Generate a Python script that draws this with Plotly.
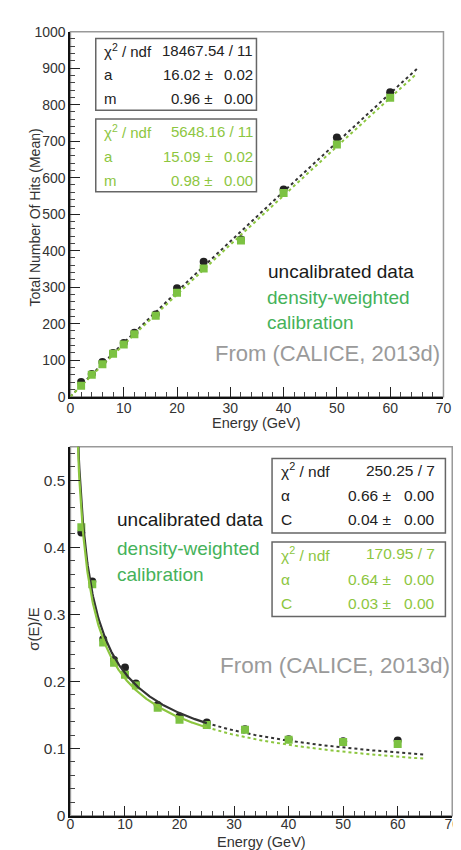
import numpy as np
import plotly.graph_objects as go

W, H = 461, 850

# ---------------- data ----------------
energy_top = [2, 4, 6, 8, 10, 12, 16, 20, 25, 32, 40, 50, 60]
hits_uncal = [40, 62, 95, 120, 147, 175, 225, 297, 370, 431, 568, 710, 834]
hits_dw = [30, 60, 89, 118, 143, 171, 222, 285, 351, 428, 558, 691, 819]

energy_res = [2, 4, 6, 8, 10, 12, 16, 20, 25, 32, 40, 50, 60]
res_uncal = [0.422, 0.349, 0.263, 0.232, 0.221, 0.197, 0.165, 0.148, 0.139, 0.129, 0.114, 0.111, 0.112]
res_dw = [0.430, 0.345, 0.258, 0.228, 0.210, 0.194, 0.161, 0.143, 0.135, 0.128, 0.113, 0.110, 0.107]

# fit parameters (power law a*E^m ; resolution alpha/sqrt(E) (+) C)
fit_top_uncal = (16.02, 0.9645)
fit_top_dw = (15.09, 0.9755)
fit_res_uncal = (0.66, 0.04)
fit_res_dw = (0.64, 0.03)
fit_top_range = (0, 65)
fit_res_solid = (1.0, 25)
fit_res_dotted = (25, 65)

stat_names_top = ["χ<sup>2</sup> / ndf", "a", "m"]
stat_vals_top_uncal = ["18467.54 / 11", "16.02 ±", "0.96 ±"]
stat_errs_top_uncal = ["", "0.02", "0.00"]
stat_vals_top_dw = ["5648.16 / 11", "15.09 ±", "0.98 ±"]
stat_errs_top_dw = ["", "0.02", "0.00"]

stat_names_res = ["χ<sup>2</sup> / ndf", "α", "C"]
stat_vals_res_uncal = ["250.25 / 7", "0.66 ±", "0.04 ±"]
stat_errs_res_uncal = ["", "0.00", "0.00"]
stat_vals_res_dw = ["170.95 / 7", "0.64 ±", "0.03 ±"]
stat_errs_res_dw = ["", "0.00", "0.00"]

label_uncal = "uncalibrated data"
label_dw = ["density-weighted", "calibration"]
source = "From (CALICE, 2013d)"

# ---------------- styles ----------------
FONT = "Liberation Sans, Arial, Helvetica, sans-serif"
BLACK = "#222222"
LINE_BLACK = "#333333"
GREEN_MK = "#7cc242"
GREEN_LINE = "#8cc63f"
GREEN_STAT = "#8dc63f"
GREEN_LABEL = "#45b25a"
GRAY = "#9a9a9a"


def px(x, y):
    return x / W, 1 - y / H


def power(a, m, e):
    return a * np.power(e, m)


def reso(al, c, e):
    return np.sqrt((al / np.sqrt(e)) ** 2 + c ** 2)


fig = go.Figure()

# ---- top panel ----
e_top = np.linspace(fit_top_range[0], fit_top_range[1], 300)
fig.add_trace(go.Scatter(x=e_top, y=power(*fit_top_uncal, e_top), mode="lines",
                         line=dict(color=LINE_BLACK, width=2, dash="dot"),
                         xaxis="x", yaxis="y", showlegend=False, hoverinfo="skip"))
fig.add_trace(go.Scatter(x=e_top, y=power(*fit_top_dw, e_top), mode="lines",
                         line=dict(color=GREEN_LINE, width=2, dash="dot"),
                         xaxis="x", yaxis="y", showlegend=False, hoverinfo="skip"))
fig.add_trace(go.Scatter(x=energy_top, y=hits_uncal, mode="markers",
                         marker=dict(symbol="circle", size=8, color=BLACK),
                         xaxis="x", yaxis="y", showlegend=False))
fig.add_trace(go.Scatter(x=energy_top, y=hits_dw, mode="markers",
                         marker=dict(symbol="square", size=8, color=GREEN_MK),
                         xaxis="x", yaxis="y", showlegend=False))

# ---- bottom panel ----
e_s = np.linspace(fit_res_solid[0], fit_res_solid[1], 300)
e_d = np.linspace(fit_res_dotted[0], fit_res_dotted[1], 200)
fig.add_trace(go.Scatter(x=e_d, y=reso(*fit_res_dw, e_d), mode="lines",
                         line=dict(color=GREEN_LINE, width=2, dash="dot"),
                         xaxis="x2", yaxis="y2", showlegend=False, hoverinfo="skip"))
fig.add_trace(go.Scatter(x=e_d, y=reso(*fit_res_uncal, e_d), mode="lines",
                         line=dict(color=LINE_BLACK, width=2, dash="dot"),
                         xaxis="x2", yaxis="y2", showlegend=False, hoverinfo="skip"))
fig.add_trace(go.Scatter(x=energy_res, y=res_uncal, mode="markers",
                         marker=dict(symbol="circle", size=8, color=BLACK),
                         xaxis="x2", yaxis="y2", showlegend=False))
fig.add_trace(go.Scatter(x=energy_res, y=res_dw, mode="markers",
                         marker=dict(symbol="square", size=8, color=GREEN_MK),
                         xaxis="x2", yaxis="y2", showlegend=False))
fig.add_trace(go.Scatter(x=e_s, y=reso(*fit_res_uncal, e_s), mode="lines",
                         line=dict(color=LINE_BLACK, width=2.2),
                         xaxis="x2", yaxis="y2", showlegend=False, hoverinfo="skip"))
fig.add_trace(go.Scatter(x=e_s, y=reso(*fit_res_dw, e_s), mode="lines",
                         line=dict(color=GREEN_LINE, width=2.2),
                         xaxis="x2", yaxis="y2", showlegend=False, hoverinfo="skip"))

# ---- axes ----
top_x = [60 / W, 443 / W]
top_y = [1 - 388 / H, 1 - 16 / H]
bot_x = [60 / W, 452 / W]
bot_y = [1 - 815 / H, 1 - 439 / H]


def axis(domain, rng, dtick, mdtick, anchor, size, standoff=0):
    return dict(domain=domain, range=rng, dtick=dtick, tick0=0, anchor=anchor,
                showgrid=False, zeroline=False, showline=True, linecolor="#111111",
                linewidth=2, mirror=False, ticks="inside", ticklen=10, tickwidth=1.2,
                tickcolor="#222222", tickfont=dict(family=FONT, size=size, color="#333333"),
                ticklabelstandoff=standoff,
                minor=dict(dtick=mdtick, ticks="inside", ticklen=5, tickwidth=1,
                           tickcolor="#444444", showgrid=False),
                fixedrange=True)


fig.update_layout(
    width=W, height=H,
    margin=dict(l=0, r=0, t=0, b=0),
    paper_bgcolor="white", plot_bgcolor="white",
    xaxis=axis(top_x, [0, 70], 10, 2, "y", 14, -2),
    yaxis=axis(top_y, [0, 1000], 100, 20, "x", 14),
    xaxis2=axis(bot_x, [0, 70], 10, 2, "y2", 14, -5),
    yaxis2=axis(bot_y, [0, 0.55], 0.1, 0.02, "x2", 15.5),
    font=dict(family=FONT),
)

shapes = []
# frames (top/right gray)
for xr, yr in (("x domain", "y domain"), ("x2 domain", "y2 domain")):
    shapes.append(dict(type="rect", xref=xr, yref=yr, x0=0, x1=1, y0=0, y1=1,
                       line=dict(color="#999999", width=1.5), layer="below"))

annotations = []


def text(x, y, s, color, size, anchor="left", angle=0):
    X, Y = px(x, y)
    annotations.append(dict(x=X, y=Y, xref="paper", yref="paper", text=s,
                            showarrow=False, xanchor=anchor, yanchor="middle",
                            textangle=angle,
                            font=dict(family=FONT, size=size, color=color)))


def box(x0, y0, x1, y1):
    X0, Y0 = px(x0, y0)
    X1, Y1 = px(x1, y1)
    shapes.append(dict(type="rect", xref="paper", yref="paper", x0=X0, x1=X1,
                       y0=Y1, y1=Y0, line=dict(color="#666666", width=1.5),
                       fillcolor="white", layer="above"))


def stats(x0, y0, x1, y1, rows_y, name_x, val_x, err_x, names, vals, errs, color, size):
    box(x0, y0, x1, y1)
    for i, ry in enumerate(rows_y):
        text(name_x, ry, names[i], color, size)
        if errs[i]:
            text(val_x, ry, vals[i], color, size, anchor="right")
            text(err_x, ry, errs[i], color, size, anchor="right")
        else:
            text(err_x, ry, vals[i], color, size, anchor="right")


# top stats boxes
stats(86, 23, 251, 96, [35, 60, 84], 92, 208, 250,
      stat_names_top, stat_vals_top_uncal, stat_errs_top_uncal, "#222222", 15)
stats(86, 105, 251, 179, [118, 143, 168], 92, 208, 250,
      stat_names_top, stat_vals_top_dw, stat_errs_top_dw, GREEN_STAT, 15)

# bottom stats boxes
stats(267, 451, 445, 527, [463, 489, 513], 274, 391, 436,
      stat_names_res, stat_vals_res_uncal, stat_errs_res_uncal, "#222222", 15.5)
stats(267, 536, 445, 612, [548, 574, 599], 274, 391, 436,
      stat_names_res, stat_vals_res_dw, stat_errs_res_dw, GREEN_STAT, 15.5)

# top labels
text(261, 260, label_uncal, "#1a1a1a", 19)
text(260, 287, label_dw[0], GREEN_LABEL, 19)
text(260, 312, label_dw[1], GREEN_LABEL, 19)
text(206, 344, source, GRAY, 22)

# bottom labels
text(106, 513, label_uncal, "#1a1a1a", 19)
text(106, 543, label_dw[0], GREEN_LABEL, 19)
text(106, 569, label_dw[1], GREEN_LABEL, 19)
text(212, 662, source, GRAY, 22.5)

# axis titles
text(251, 415, "Energy (GeV)", "#333333", 14.5, anchor="center")
text(24, 205, "Total Number Of Hits (Mean)", "#333333", 14, anchor="center", angle=-90)
text(256, 841.5, "Energy (GeV)", "#333333", 14.5, anchor="center")
text(22, 625, "σ(E)/E", "#333333", 15, anchor="center", angle=-90)

fig.update_layout(shapes=shapes, annotations=annotations)
fig.write_html("out.html")
